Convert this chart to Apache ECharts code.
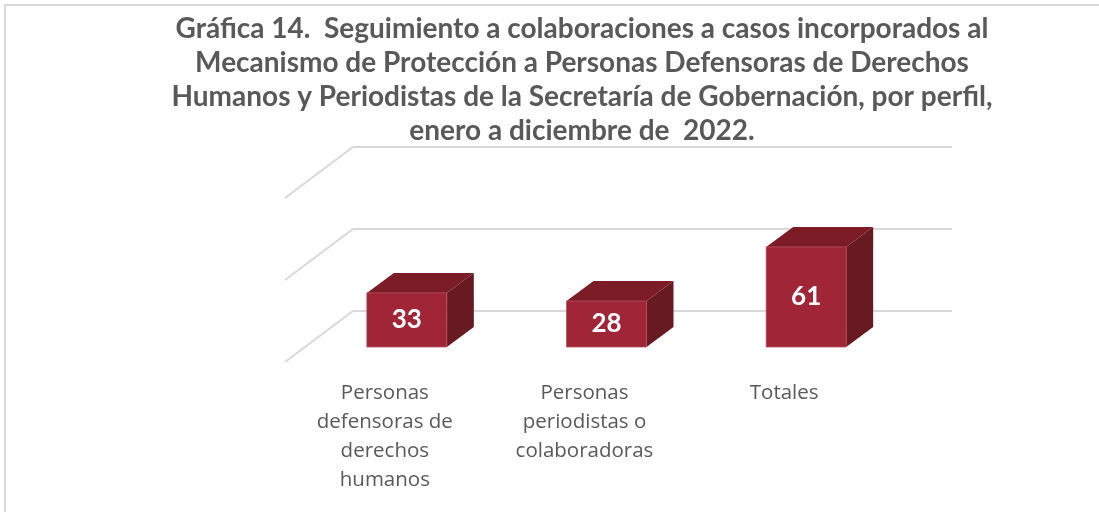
<!DOCTYPE html>
<html>
<head>
<meta charset="utf-8">
<script src="https://cdn.jsdelivr.net/npm/echarts@6/dist/echarts.min.js"></script>
<style>
html, body { margin: 0; padding: 0; background: #fff; }
#main { width: 1099px; height: 512px; }
</style>
</head>
<body>
<div id="main"></div>
<script>
// datos de la gráfica
var categorias = ['Personas\ndefensoras de\nderechos\nhumanos', 'Personas\nperiodistas o\ncolaboradoras', 'Totales'];
var valores = [33, 28, 61];
var marcas = [0, 50, 100];

var titulo = 'Gráfica 14.  Seguimiento a colaboraciones a casos incorporados al\n' +
    'Mecanismo de Protección a Personas Defensoras de Derechos\n' +
    'Humanos y Periodistas de la Secretaría de Gobernación, por perfil,\n' +
    'enero a diciembre de  2022.';

var chart = echarts.init(document.getElementById('main'));

// profundidad de la "pared" lateral y de las barras 3D
var fondoX = 68, fondoY = 51;
var barraX = 27, barraY = 20, anchoBarra = 80;

function dibujaBarra(params, api) {
    var tope = api.coord([api.value(0), api.value(1)]);
    var base = api.coord([api.value(0), 0]);
    var cx = tope[0] - 46;
    var yb = base[1] + 36;
    var yt = tope[1] + 36;
    var l = cx - anchoBarra / 2, r = cx + anchoBarra / 2;
    return {
        type: 'group',
        children: [
            {
                type: 'polygon',
                shape: { points: [[l, yt], [l + barraX, yt - barraY], [r + barraX, yt - barraY], [r, yt]] },
                style: { fill: '#7b1c27' }
            },
            {
                type: 'polygon',
                shape: { points: [[r, yt], [r + barraX, yt - barraY], [r + barraX, yb - barraY], [r, yb]] },
                style: { fill: '#671a22' }
            },
            {
                type: 'rect',
                shape: { x: l, y: yt, width: anchoBarra, height: yb - yt },
                style: { fill: '#a02536', stroke: '#b8505e', lineWidth: 0.8 },
                textContent: {
                    style: {
                        text: String(api.value(1)),
                        fill: '#ffffff',
                        font: 'bold 26px Lato'
                    }
                },
                textConfig: { position: 'inside' }
            }
        ]
    };
}

// líneas de la pared lateral (izquierda)
function dibujaLateral(params, api) {
    var p = api.coord([0, api.value(1)]);
    var x0 = params.coordSys.x;
    return {
        type: 'line',
        shape: { x1: x0, y1: p[1], x2: x0 - fondoX, y2: p[1] + fondoY },
        style: { stroke: '#d9d9d9', lineWidth: 2 }
    };
}

var option = {
    animation: false,
    backgroundColor: '#ffffff',
    title: {
        text: titulo,
        left: 582,
        top: 12,
        padding: 0,
        textAlign: 'center',
        textStyle: {
            fontFamily: 'Lato',
            fontWeight: 'bold',
            fontSize: 28,
            lineHeight: 34,
            color: '#595959'
        }
    },
    graphic: [
        {
            type: 'rect',
            z: -10,
            shape: { x: 5, y: 5, width: 1200, height: 600 },
            style: { fill: 'none', stroke: '#d9d9d9', lineWidth: 2 }
        }
    ],
    grid: [
        { left: 353, right: 147, top: 147, bottom: 201 },
        { left: 285, right: 215, top: 198, bottom: 150 }
    ],
    xAxis: [
        {
            type: 'category',
            gridIndex: 0,
            data: categorias,
            axisLine: { show: false },
            axisTick: { show: false },
            axisLabel: { show: false }
        },
        {
            type: 'category',
            gridIndex: 1,
            data: categorias,
            axisLine: { show: false },
            axisTick: { show: false },
            axisLabel: {
                margin: 17,
                fontFamily: 'Open Sans',
                fontSize: 20.5,
                lineHeight: 29,
                color: '#595959',
                interval: 0
            }
        }
    ],
    yAxis: [
        {
            type: 'value',
            gridIndex: 0,
            min: 0,
            max: 100,
            interval: 50,
            axisLine: { show: false },
            axisTick: { show: false },
            axisLabel: { show: false },
            splitLine: { lineStyle: { color: '#d9d9d9', width: 2 } }
        },
        {
            type: 'value',
            gridIndex: 1,
            show: false
        }
    ],
    series: [
        {
            type: 'custom',
            xAxisIndex: 0,
            yAxisIndex: 0,
            renderItem: dibujaLateral,
            data: marcas.map(function (v) { return [0, v]; }),
            silent: true
        },
        {
            type: 'custom',
            xAxisIndex: 0,
            yAxisIndex: 0,
            renderItem: dibujaBarra,
            data: valores.map(function (v, i) { return [i, v]; }),
            z: 3
        }
    ]
};

chart.setOption(option);
</script>
</body>
</html>
